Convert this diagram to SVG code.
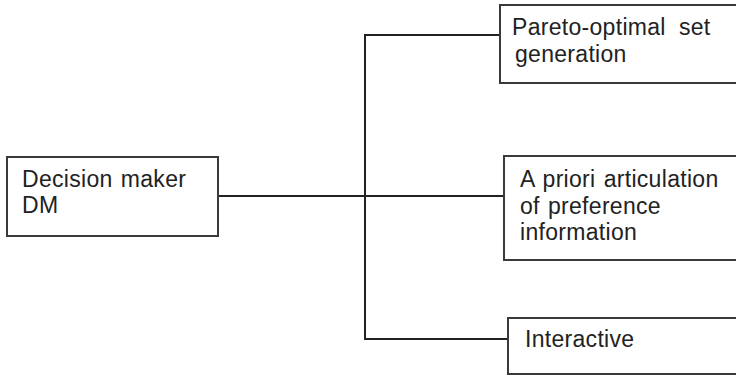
<svg xmlns="http://www.w3.org/2000/svg" width="736" height="376" viewBox="0 0 736 376">
<style>
.box{fill:#fff;stroke:#3a3a3a;stroke-width:2}
.ln{fill:none;stroke:#222;stroke-width:2}
text{font-family:"Liberation Sans",Arial,sans-serif;font-size:23px;fill:#222;letter-spacing:0.3px;word-spacing:1.5px}
</style>
<rect width="736" height="376" fill="#fff"/>
<g id="connectors">
<line class="ln" x1="218" y1="196" x2="504" y2="196"/>
<polyline class="ln" points="500,35 365,35 365,339 508,339"/>
</g>
<g id="dm">
<rect class="box" x="7" y="157" width="211" height="79"/>
<text x="22" y="187">Decision maker</text>
<text x="22" y="213">DM</text>
</g>
<g id="pareto">
<rect class="box" x="500" y="5" width="245" height="78"/>
<text x="512" y="35">Pareto-optimal <tspan dx="5">set</tspan></text>
<text x="515" y="62">generation</text>
</g>
<g id="apriori">
<rect class="box" x="504" y="156" width="245" height="104"/>
<text x="520" y="187">A priori articulation</text>
<text x="520" y="214">of preference</text>
<text x="520" y="240">information</text>
</g>
<g id="interactive">
<rect class="box" x="508" y="318" width="245" height="56"/>
<text x="525" y="347">Interactive</text>
</g>
</svg>
